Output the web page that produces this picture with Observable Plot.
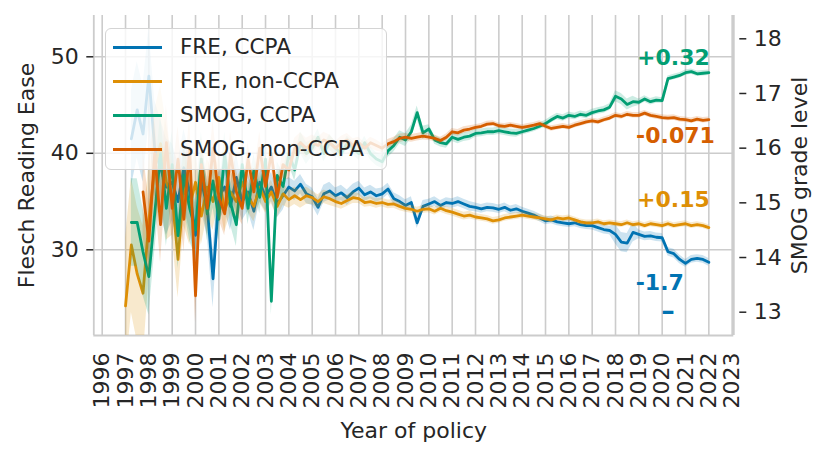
<!DOCTYPE html>
<html><head><meta charset="utf-8">
<script src="https://cdn.jsdelivr.net/npm/d3@7"></script>
<script src="https://cdn.jsdelivr.net/npm/@observablehq/plot@0.6"></script>
<style>
body{margin:0;background:#fff;font-family:"DejaVu Sans",sans-serif;color:#262626;}
#wrap{position:relative;width:831px;height:459px;overflow:hidden;}
#legend{position:absolute;left:105px;top:28px;width:282px;height:142px;background:rgba(255,255,255,0.8);border:1.5px solid #d4d4d4;border-radius:6px;box-sizing:border-box;}
.item{position:absolute;left:0;width:280px;height:34px;}
.sw{position:absolute;left:7px;top:15.5px;width:49px;height:3px;}
.lab{position:absolute;left:74px;top:0;line-height:34px;font-size:21.5px;color:#262626;white-space:nowrap;}
</style></head><body><div id="wrap"></div>
<script>
// ---------------- data ----------------
const tickYears = [1996,1997,1998,1999,2000,2001,2002,2003,2004,2005,2006,2007,2008,2009,2010,2011,2012,2013,2014,2015,2016,2017,2018,2019,2020,2021,2022,2023];
const sampleYears = [1997,1998,1999,2000,2001,2002,2003,2004,2005,2006,2007,2008,2009,2010,2011,2012,2013,2014,2015,2016,2017,2018,2019,2020,2021,2022];
const seriesNames = ["FRE, CCPA","FRE, non-CCPA","SMOG, CCPA","SMOG, non-CCPA"];
const seriesColors = ["#0173B2","#DE8F05","#029E73","#D55E00"];
const leftTicks = [30,40,50];
const rightTicks = [13,14,15,16,17,18];
const changeLabels = ["+0.32","-0.071","+0.15","-1.7","–"];

// quarterly values (1997.00, 1997.25, ... 2022.00)
const freCCPA = [null,41.5,44.5,42.0,48.0,40.5,38.5,36.5,37.0,35.0,38.5,36.0,31.5,37.0,34.5,27.0,35.5,36.5,34.5,37.5,35.0,36.0,34.0,37.0,35.5,36.5,34.8,35.6,36.5,36.1,36.8,35.8,35.5,34.4,35.8,36.1,35.6,35.9,35.4,36.0,36.4,35.7,36.0,35.6,35.8,36.3,35.3,35.0,34.6,34.9,32.8,34.5,34.75,35.0,34.6,34.9,34.8,35.0,34.75,34.5,34.4,34.25,34.4,34.35,34.2,34.4,34.1,34.25,34.0,33.8,33.6,33.3,33.0,33.1,32.9,32.8,32.7,32.8,32.6,32.5,32.5,32.3,32.1,32.0,31.6,30.8,30.7,31.8,31.6,31.4,31.45,31.3,31.25,29.8,29.6,29.0,28.6,29.0,29.1,29.0,28.7];
const freNon = [24.2,30.5,27.5,25.5,33.0,38.5,41.0,37.0,35.5,29.0,36.5,34.5,37.0,33.5,36.5,35.0,37.5,34.0,36.0,35.0,37.0,35.5,34.5,36.5,35.0,36.0,34.5,35.8,35.2,35.6,35.2,35.6,35.4,35.0,35.5,35.3,35.0,34.8,35.1,35.4,35.3,34.9,35.0,34.8,34.9,34.7,34.75,34.5,34.3,34.2,34.0,34.2,34.25,34.0,34.3,34.05,33.9,33.7,33.5,33.6,33.4,33.3,33.2,33.0,33.1,33.3,33.4,33.5,33.6,33.5,33.4,33.3,33.2,33.1,33.3,33.2,33.3,33.1,32.9,32.8,32.8,32.9,32.7,32.8,32.7,32.6,32.8,32.6,32.7,32.5,32.7,32.6,32.5,32.7,32.5,32.6,32.7,32.5,32.6,32.5,32.3];
const smogCCPA = [null,14.64,14.64,14.1,13.65,14.8,15.9,14.9,15.7,14.4,15.5,14.9,14.5,15.8,14.8,15.4,14.7,15.9,15.0,14.6,15.7,14.9,15.6,15.1,15.8,13.2,15.5,15.3,15.9,15.6,16.1,15.9,16.0,16.2,15.9,16.1,16.0,15.9,16.1,16.0,15.9,16.1,15.9,15.8,15.75,15.95,16.05,16.2,16.15,16.3,16.65,16.28,16.35,16.15,16.1,16.08,16.2,16.16,16.2,16.22,16.27,16.28,16.3,16.3,16.32,16.3,16.28,16.27,16.3,16.33,16.36,16.4,16.45,16.52,16.58,16.55,16.6,16.58,16.62,16.6,16.65,16.68,16.7,16.75,16.95,16.9,16.8,16.85,16.84,16.9,16.85,16.88,16.87,17.27,17.3,17.33,17.38,17.4,17.36,17.37,17.38];
const smogNon = [null,null,null,15.2,14.3,15.9,14.6,16.1,14.9,15.8,14.7,16.0,13.3,15.7,14.9,16.0,15.1,14.8,15.9,15.2,14.9,15.8,15.2,16.0,15.3,15.9,15.1,15.7,15.6,16.0,16.1,16.0,16.1,16.05,16.15,16.1,16.0,16.1,16.15,16.05,16.1,16.0,16.1,16.05,16.0,16.08,16.12,16.18,16.2,16.18,16.2,16.22,16.2,16.18,16.14,16.2,16.3,16.28,16.33,16.35,16.38,16.4,16.44,16.45,16.41,16.4,16.42,16.4,16.38,16.4,16.42,16.45,16.4,16.36,16.38,16.4,16.38,16.42,16.45,16.48,16.5,16.48,16.52,16.55,16.6,16.58,16.62,16.6,16.6,16.64,16.6,16.58,16.56,16.55,16.56,16.53,16.52,16.5,16.53,16.51,16.52];

// confidence band half-widths, one per sample year (1997 ... 2022)
const hwFreCCPA = [5,5,4,3,2.5,2,1.5,1.0,0.9,0.8,0.7,0.6,0.6,0.5,0.5,0.45,0.45,0.4,0.4,0.4,0.45,1.0,0.45,0.45,0.4,0.4];
const hwFreNon = [7,6,4,3,2.2,1.6,1.2,0.9,0.7,0.6,0.5,0.45,0.4,0.4,0.4,0.35,0.35,0.35,0.3,0.3,0.3,0.3,0.3,0.3,0.3,0.3];
const hwSmogCCPA = [0.8,0.7,0.6,0.5,0.4,0.3,0.25,0.2,0.15,0.12,0.12,0.12,0.12,0.08,0.08,0.07,0.07,0.06,0.06,0.06,0.06,0.1,0.06,0.05,0.05,0.05];
const hwSmogNon = [0.8,0.7,0.6,0.5,0.4,0.3,0.25,0.18,0.14,0.12,0.1,0.08,0.07,0.06,0.06,0.05,0.05,0.05,0.05,0.05,0.05,0.05,0.05,0.05,0.05,0.05];

// ---------------- build ----------------
const t = sampleYears.flatMap(y => [y, y + 0.25, y + 0.5, y + 0.75]).filter(v => v <= 2022);
// SMOG grade -> position on the FRE axis (twin axis alignment)
const toFre = s => 51.865 - 5.666 * (18 - s);
const fromFre = f => 18 - (51.865 - f) / 5.666;

const defs = [
  {name: seriesNames[0], color: seriesColors[0], vals: freCCPA, hw: hwFreCCPA, smog: false},
  {name: seriesNames[1], color: seriesColors[1], vals: freNon, hw: hwFreNon, smog: false},
  {name: seriesNames[2], color: seriesColors[2], vals: smogCCPA, hw: hwSmogCCPA, smog: true},
  {name: seriesNames[3], color: seriesColors[3], vals: smogNon, hw: hwSmogNon, smog: true}
];
defs.forEach(d => {
  d.rows = [];
  d.vals.forEach((v, i) => {
    if (v == null || i >= t.length) return;
    const h = d.hw[Math.floor(t[i]) - sampleYears[0]];
    const f = d.smog ? toFre : (x => x);
    d.rows.push({x: t[i], y: f(v), lo: f(v - h), hi: f(v + h)});
  });
});

const xDomain = [1995.64, 2023.07];
const yDomain = [21.12, 54.28];

const marks = [
  Plot.gridX(tickYears, {stroke: "#cccccc", strokeOpacity: 1, strokeWidth: 1.6}),
  Plot.gridY(leftTicks, {stroke: "#cccccc", strokeOpacity: 1, strokeWidth: 1.6}),
  Plot.ruleX([xDomain[0], xDomain[1]], {stroke: "#cccccc", strokeWidth: 1.8}),
  Plot.ruleY([yDomain[0]], {stroke: "#cccccc", strokeWidth: 1.8})
];
defs.forEach(d => {
  marks.push(Plot.areaY(d.rows, {x: "x", y1: "lo", y2: "hi", fill: d.color, fillOpacity: 0.2, clip: true}));
  marks.push(Plot.line(d.rows, {x: "x", y: "y", stroke: d.color, strokeWidth: 2.8, clip: true}));
});

const last = i => [defs[i].rows[defs[i].rows.length - 1]];
const ann = (i, label, dx, dy, size = 22) => Plot.text(last(i), {x: "x", y: "y", text: () => label, fill: defs[i].color,
  fontWeight: "bold", fontSize: size, textAnchor: "end", dx, dy});
marks.push(
  ann(2, changeLabels[0], 1, -15),
  ann(3, changeLabels[1], 6, 16),
  ann(1, changeLabels[2], 1, -28),
  ann(0, changeLabels[3], -25, 21),
  ann(0, changeLabels[4], -34, 49, 27)
);

marks.push(
  Plot.axisX(tickYears, {tickFormat: d => String(d), tickRotate: -90, tickSize: 0, tickPadding: 17,
    label: "Year of policy", labelArrow: "none", labelAnchor: "center", labelOffset: 102}),
  Plot.axisY(leftTicks, {tickSize: 7, tickPadding: 8, strokeWidth: 1.5, stroke: "#262626",
    label: "Flesch Reading Ease", labelArrow: "none", labelAnchor: "center", labelOffset: 75}),
  Plot.axisY(rightTicks.map(toFre), {anchor: "right", tickFormat: d => String(Math.round(fromFre(d))),
    tickSize: 7, tickPadding: 8, strokeWidth: 1.5, stroke: "#262626", dx: 5,
    label: "SMOG grade level", labelArrow: "none", labelAnchor: "center", labelOffset: 73})
);

const chart = Plot.plot({
  width: 831, height: 459,
  marginLeft: 93.3, marginRight: 97.7, marginTop: 15, marginBottom: 124,
  x: {domain: xDomain},
  y: {domain: yDomain},
  style: {fontFamily: "DejaVu Sans", fontSize: "22px", color: "#262626", background: "#fff"},
  marks
});
const wrap = document.getElementById("wrap");
wrap.appendChild(chart);

// legend overlay
const leg = document.createElement("div");
leg.id = "legend";
seriesNames.forEach((n, i) => {
  const it = document.createElement("div");
  it.className = "item";
  it.style.top = (1 + i * 34) + "px";
  const sw = document.createElement("div");
  sw.className = "sw"; sw.style.background = seriesColors[i];
  const lb = document.createElement("div");
  lb.className = "lab"; lb.textContent = n;
  it.appendChild(sw); it.appendChild(lb);
  leg.appendChild(it);
});
wrap.appendChild(leg);
</script></body></html>
